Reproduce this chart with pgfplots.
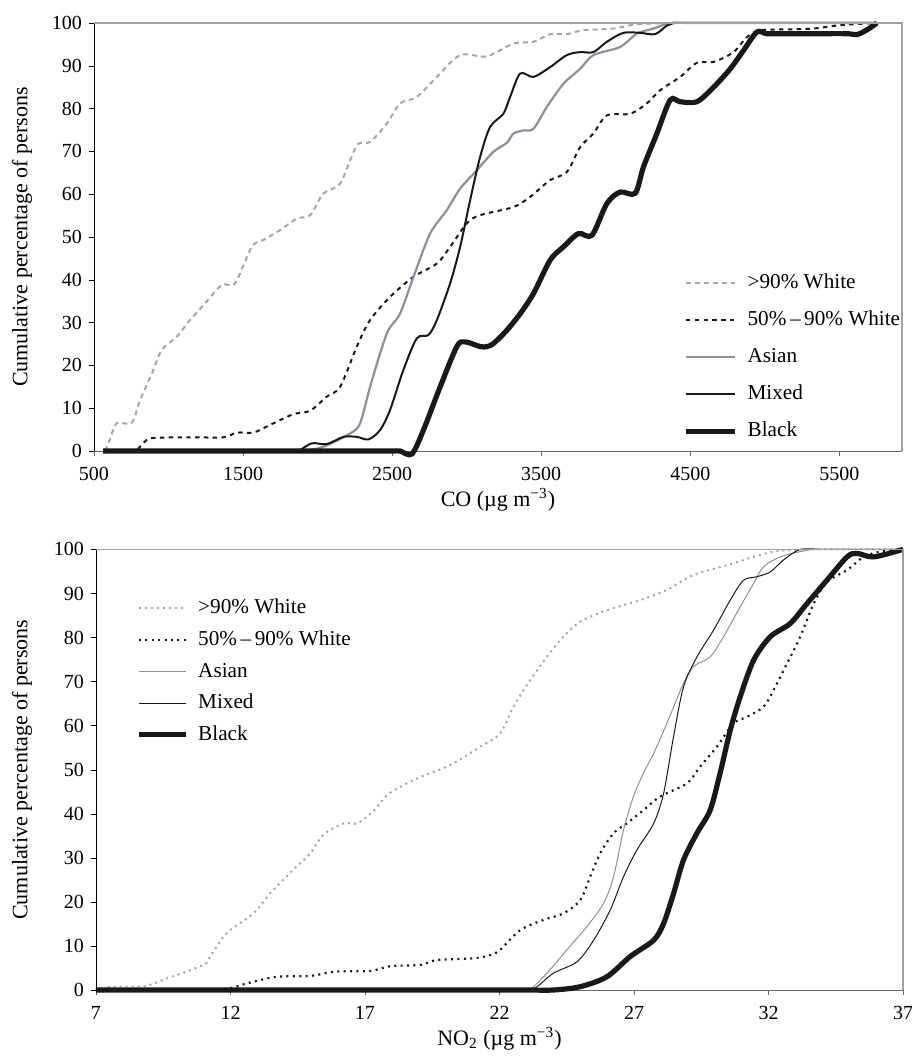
\documentclass[border=0pt]{standalone}
\usepackage{fontspec}
\setmainfont{Liberation Serif}
\usepackage{pgfplots}
\pgfplotsset{compat=1.18}

\definecolor{lgray}{RGB}{165,165,165}
\definecolor{agray}{RGB}{138,145,152}
\definecolor{nblack}{RGB}{25,25,25}
\definecolor{framegray}{RGB}{160,160,160}

\pgfplotsset{
  cdf/.style={
    scale only axis,
    clip=false,
    ymin=0, ymax=100, ytick={0,10,...,100},
    axis x line*=bottom, axis y line*=left,
    x axis line style={draw=black!60},
    y axis line style={draw=black},
    tick align=outside, major tick length=2.5pt,
    xtick style={black!60}, ytick style={black},
    tick label style={font=\fontsize{10}{12}\selectfont},
    xticklabel style={yshift=-2pt},
    label style={font=\fontsize{11}{13}\selectfont},
    xlabel style={yshift=3pt},
    /pgf/number format/assume math mode=true,
    /pgf/number format/set thousands separator={},
    ylabel={Cumulative percentage of persons},
    legend cell align=left,
    legend style={draw=none, fill=none, inner sep=0pt, column sep=4pt,
      font=\fontsize{10.6}{13}\selectfont,
      nodes={inner sep=1pt, text height=7.5pt, text depth=2pt}},
  },
}

\begin{document}
\begin{tikzpicture}
\useasboundingbox (-47pt,-304pt) rectangle (408.5pt,225.5pt);

% CO panel
\begin{axis}[cdf,
  at={(0,0)}, anchor=south west,
  width=404pt, height=214pt,
  xmin=500, xmax=5920, xtick={500,1500,...,5500},
  xlabel={CO (µg m\textsuperscript{−3})},
  ylabel style={at={(axis description cs:-0.089,0.5)}, anchor=center},
  legend style={at={(0.729,0.42)}, anchor=north west, row sep=7pt},
  legend image code/.code={\draw[#1] (0pt,0pt) -- (24.5pt,0pt);},
]
\addplot[lgray, line width=1pt, dash pattern=on 2.5pt off 2pt, smooth] coordinates {
(574,0) (610,3) (652,6.5) (753,6.6) (809,11.9) (887,18) (954,23.6) (1055,26.7)
(1144,30.6) (1245,34.5) (1357,38.8) (1446,39.2) (1558,47.7) (1636,49.3) (1748,51.6)
(1860,54.3) (1950,55.1) (2039,60.2) (2151,62.5) (2263,71.4) (2352,72.2) (2464,76.5)
(2553,81.2) (2665,82.7) (2800,87.4) (2956,92.5) (3135,92.2) (3314,95.2) (3448,95.6)
(3560,97.4) (3672,97.4) (3781,98.3) (3983,98.7) (4141,99.7) (4400,100) (4800,100)
(5300,100) (5750,100)};
\addlegendentry{>90\% White}
\addplot[nblack, line width=1pt, dash pattern=on 2.2pt off 2.2pt, smooth] coordinates {
(562,0) (680,0) (775,0) (854,2.6) (921,3.1) (1150,3.2) (1368,3.2) (1458,4.3) (1569,4.3)
(1681,6.1) (1837,8.6) (1950,9.4) (2061,12.7) (2151,15) (2263,24.4) (2352,30.6) (2486,36)
(2643,40.7) (2800,43.8) (2889,47.7) (3001,53.2) (3090,55.1) (3314,57) (3426,59.4)
(3560,63.3) (3672,65.2) (3761,71) (3850,74.2) (3940,78.4) (4097,78.8) (4208,81.2)
(4298,84.3) (4432,87.4) (4544,90.7) (4656,90.9) (4790,93.2) (4879,96.7) (4969,98.3)
(5150,98.5) (5326,98.7) (5506,99.5) (5752,100)};
\addlegendentry{50\%\,–\,90\% White}
\addplot[agray, line width=1.1pt, smooth] coordinates {
(562,0) (1000,0) (1400,0) (1700,0) (1850,0) (1905,0) (2039,1) (2218,4.1) (2285,6.5)
(2352,15) (2419,22.8) (2475,28.3) (2553,32.1) (2643,40.7) (2755,50.8) (2867,56.3)
(2956,61.3) (3068,65.6) (3179,69.9) (3269,72) (3314,74.2) (3381,74.9) (3448,75.3)
(3538,80.4) (3649,85.8) (3761,89.3) (3850,92.5) (4029,94.4) (4141,97.5) (4253,98.7)
(4365,100) (4500,100) (4900,100) (5350,100) (5750,100)};
\addlegendentry{Asian}
\addplot[nblack, line width=1pt, smooth] coordinates {
(562,0) (1000,0) (1400,0) (1700,0) (1820,0) (1871,0) (1961,1.8) (2061,1.6) (2173,3.3)
(2263,3.3) (2341,2.7) (2419,4.9) (2486,9.6) (2575,18.9) (2665,26.3) (2743,27.1)
(2800,30.6) (2889,39.2) (2956,47.7) (3023,58.6) (3090,68.7) (3157,75.7) (3246,78.8)
(3291,82.7) (3359,88.2) (3448,87.4) (3560,89.7) (3672,92.5) (3761,93.2) (3850,93.2)
(3940,95.6) (4051,97.7) (4163,97.7) (4264,97.4) (4343,99.4) (4387,100) (4500,100)
(4900,100) (5350,100) (5750,100)};
\addlegendentry{Mixed}
\addplot[nblack, line width=2.6pt, smooth] coordinates {
(562,0) (1000,0) (1500,0) (2000,0) (2350,0) (2500,0) (2553,0) (2632,-0.7) (2710,4.9)
(2822,15) (2934,24.4) (2989,25.5) (3090,24.4) (3135,24.4) (3179,25.1) (3269,28.2)
(3359,32.1) (3448,36.8) (3560,44.6) (3649,47.7) (3750,50.8) (3840,50.4) (3940,57.8)
(4029,60.5) (4130,60.2) (4186,66.4) (4276,74.2) (4365,82) (4432,81.6) (4544,81.6)
(4656,85) (4768,89.3) (4857,93.6) (4947,97.9) (5014,97.5) (5150,97.5) (5350,97.5)
(5551,97.5) (5618,97.3) (5685,98.4) (5752,100)};
\addlegendentry{Black}
\draw[framegray, line width=0.75pt] (rel axis cs:0,1) -- (rel axis cs:1,1) -- (rel axis cs:1,0);
\end{axis}

% NO2 panel
\begin{axis}[cdf,
  at={(1pt,-49.2pt)}, anchor=north west,
  width=403.5pt, height=220.3pt,
  xmin=7, xmax=37, xtick={7,12,...,37},
  xlabel={NO\textsubscript{2} (µg m\textsuperscript{−3})},
  ylabel style={at={(axis description cs:-0.0917,0.5)}, anchor=center},
  legend style={at={(0.0496,0.893)}, anchor=north west, row sep=4.3pt},
  legend image code/.code={\draw[#1] (0pt,0pt) -- (23.3pt,0pt);},
]
\addplot[lgray, line width=1pt, dash pattern=on 1pt off 2pt, smooth] coordinates {
(7,0) (7.5,0.7) (8.8,0.9) (9.63,2.6) (11,5.7) (11.24,7.6) (11.86,12.9) (12.85,17.4)
(13.47,21.9) (14.2,26.5) (14.96,31) (15.45,35.2) (16.2,37.8) (16.7,37.8) (17.3,40.5)
(17.9,44.6) (18.93,48) (19.9,50.3) (20.5,52.2) (21.28,55.2) (22.02,58.2) (22.52,64.3)
(23.14,70.3) (23.76,75.6) (24.38,80.2) (25,83.6) (25.99,86.2) (27.23,88.5) (28.22,90.8)
(29.21,94.2) (30.45,96.4) (32.19,99.5) (33.7,100) (34.6,100) (35.8,100) (37,100)};
\addlegendentry{>90\% White}
\addplot[nblack, line width=1.1pt, dash pattern=on 1pt off 2.2pt, smooth] coordinates {
(7,0) (9,0) (11,0) (11.98,0.4) (12.6,1.5) (13.72,3) (14.96,3.2) (15.95,4.2) (17.19,4.3)
(17.93,5.4) (19.05,5.7) (19.67,6.8) (21.03,7.2) (21.65,7.9) (22.02,9.1) (22.77,13.6)
(23.63,15.9) (24.38,17.4) (25,20.4) (25.37,25.7) (25.74,31) (26.24,35.6) (26.73,37.8)
(27.35,40.8) (27.97,43.9) (28.97,46.9) (29.46,50.7) (30.08,55.2) (30.7,60.5) (31.2,62)
(31.82,64.3) (32.19,68.1) (32.69,74.1) (33.18,80.2) (33.68,87.7) (34.17,92.6)
(34.92,95.3) (35.54,98.3) (36.16,99.5) (37,100)};
\addlegendentry{50\%\,–\,90\% White}
\addplot[agray, line width=0.5pt, smooth] coordinates {
(7,0) (12,0) (17,0) (20.5,0) (22.3,0) (23.08,0) (23.76,3.8) (24.5,9.1) (25.25,14.4)
(25.87,19.7) (26.24,25.7) (26.61,36.3) (26.98,43.9) (27.35,49.2) (27.73,53.7)
(28.22,60.5) (28.84,69.6) (29.21,73.4) (29.83,75.6) (30.33,80.2) (30.95,87)
(31.45,92.3) (31.82,96.1) (32.44,98.3) (33.18,99.5) (33.7,100) (34.6,100) (35.8,100)
(37,100)};
\addlegendentry{Asian}
\addplot[nblack, line width=0.5pt, smooth] coordinates {
(7,0) (12,0) (17,0) (20.5,0) (22.4,0) (23.2,0) (24,3.8) (24.88,6.4) (25.5,11.3)
(26.12,18.2) (26.61,25.7) (27.11,31.8) (27.73,37.8) (28.1,44.6) (28.47,57.5)
(28.84,68.8) (29.34,75.6) (29.96,81.7) (30.58,88.5) (31.07,93) (31.57,93.8)
(32.07,94.9) (32.56,97.6) (33.18,100) (34,100) (35.2,100) (37,100)};
\addlegendentry{Mixed}
\addplot[nblack, line width=2.6pt, smooth] coordinates {
(7,0) (12,0) (17,0) (21,0) (23,0) (24,0) (25,0.75) (25.99,3) (26.86,7.6) (27.73,11.3)
(28.1,15.1) (28.47,21.9) (28.84,29.5) (29.34,35.6) (29.83,40.8) (30.2,49.2) (30.58,59)
(30.95,66.6) (31.45,74.9) (32.07,80.2) (32.81,83.2) (33.43,87.7) (34.17,93)
(34.92,98.3) (35.29,99.1) (35.91,98.3) (37,100)};
\addlegendentry{Black}
\draw[framegray, line width=0.75pt] (rel axis cs:0,1) -- (rel axis cs:1,1) -- (rel axis cs:1,0);
\end{axis}
\end{tikzpicture}
\end{document}
